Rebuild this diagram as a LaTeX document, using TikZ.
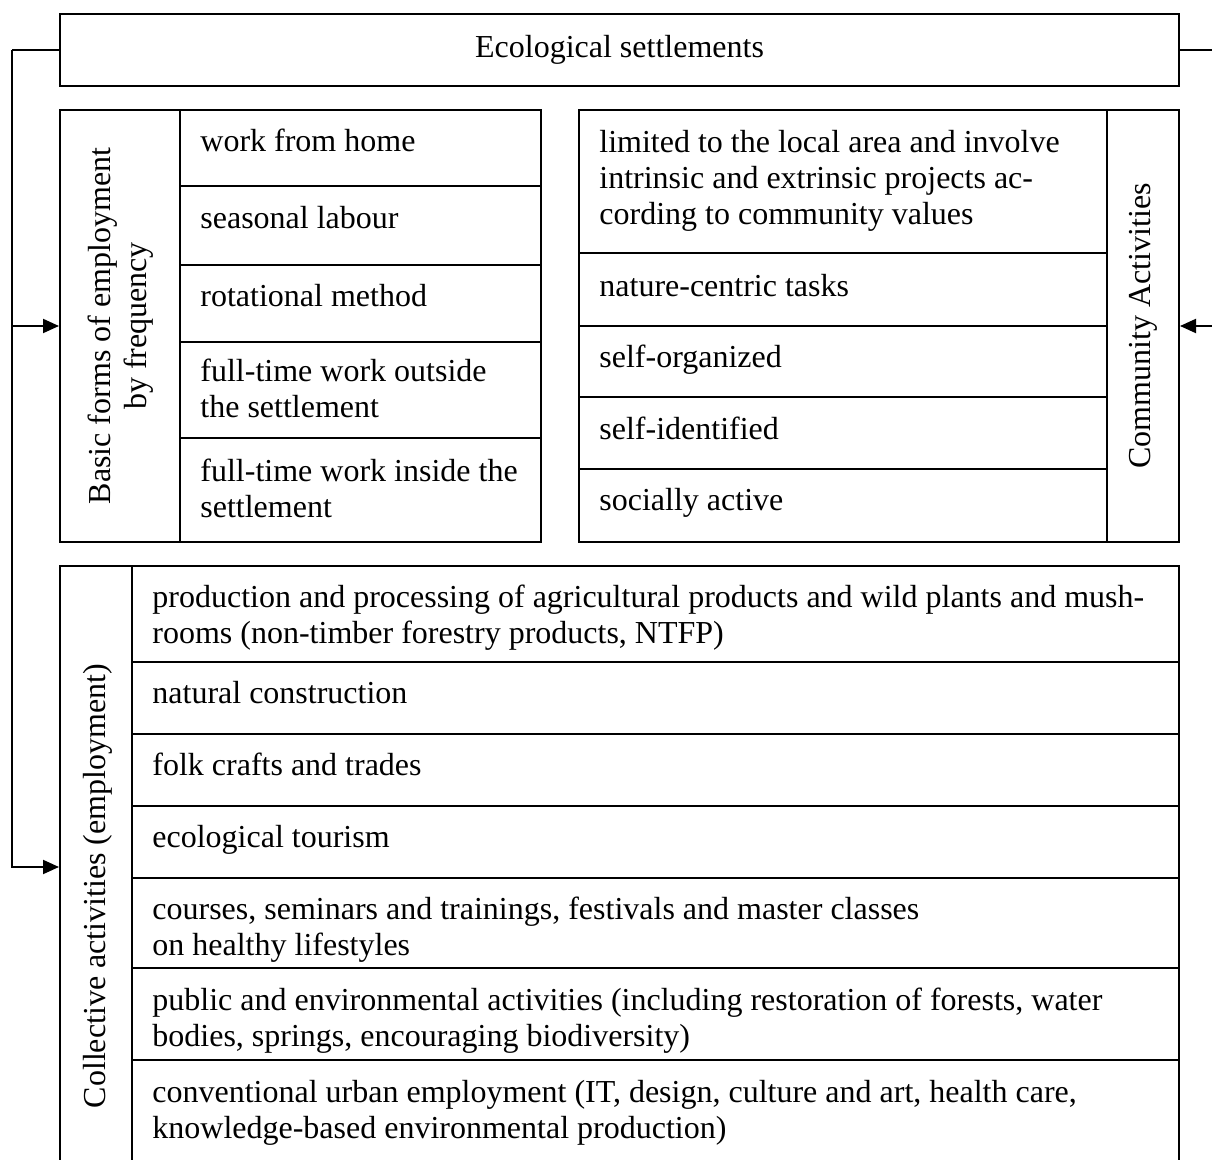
\documentclass[tikz,border=0pt]{standalone}
\usepackage{fontspec}
\setmainfont{Liberation Serif}
\usetikzlibrary{arrows.meta}
\begin{document}
\begin{tikzpicture}[x=0.5pt,y=-0.5pt,
  frame/.style={draw, line width=1pt, inner sep=0pt},
  txt/.style={font=\fontsize{16}{18}\selectfont, inner sep=0pt, align=left, anchor=west, yshift=-1.5pt},
  vtxt/.style={font=\fontsize{16}{18}\selectfont, inner sep=0pt, align=center, rotate=90},
  rule/.style={line width=1pt},
  conn/.style={line width=1pt, -{Triangle[length=8pt,width=7pt]}}]
\clip (0,0) rectangle (1212,1160);
% boxes
\node[frame, minimum width=559.5pt, minimum height=36pt] (top) at (619.5,50) {};
\node[frame, minimum width=240.5pt, minimum height=216pt] (basic) at (300.5,326) {};
\node[frame, minimum width=300pt, minimum height=216pt] (comm) at (879,326) {};
\node[frame, minimum width=559.5pt, minimum height=317pt] (coll) at (619.5,883) {};
% inner rules: basic forms
\draw[rule] (180,110) -- (180,542);
\foreach \y in {186,265,342,438} \draw[rule] (180,\y) -- (541,\y);
% inner rules: community
\draw[rule] (1107,110) -- (1107,542);
\foreach \y in {253,326,397,469} \draw[rule] (579,\y) -- (1107,\y);
% inner rules: collective
\draw[rule] (132,566) -- (132,1200);
\foreach \y in {662,734,806,878,968,1060} \draw[rule] (132,\y) -- (1179,\y);
% texts
\node[font=\fontsize{16}{18}\selectfont, inner sep=0pt] (ttop) at (619.5,50) {\strut Ecological settlements};
\node[vtxt] (tbasic) at (121,326) {\strut Basic forms of employment\\\strut by frequency};
\node[txt] (b1) at (200,141) {\strut work from home};
\node[txt] (b2) at (200,218) {\strut seasonal labour};
\node[txt] (b3) at (200,296) {\strut rotational method};
\node[txt] (b4) at (200,389) {\strut full-time work outside\\\strut the settlement};
\node[txt] (b5) at (200,489) {\strut full-time work inside the\\\strut settlement};
\node[vtxt] (tcomm) at (1143,326) {\strut Community Activities};
\node[txt] (c1) at (599,178) {\strut limited to the local area and involve\\\strut intrinsic and extrinsic projects ac-\\\strut cording to community values};
\node[txt] (c2) at (599,286) {\strut nature-centric tasks};
\node[txt] (c3) at (599,357) {\strut self-organized};
\node[txt] (c4) at (599,429) {\strut self-identified};
\node[txt] (c5) at (599,500) {\strut socially active};
\node[vtxt] (tcoll) at (98,886) {\strut Collective activities (employment)};
\node[txt] (k1) at (152,615) {\strut production and processing of agricultural products and wild plants and mush-\\\strut rooms (non-timber forestry products, NTFP)};
\node[txt] (k2) at (152,693) {\strut natural construction};
\node[txt] (k3) at (152,765) {\strut folk crafts and trades};
\node[txt] (k4) at (152,837) {\strut ecological tourism};
\node[txt] (k5) at (152,927) {\strut courses, seminars and trainings, festivals and master classes\\\strut on healthy lifestyles};
\node[txt] (k6) at (152,1018) {\strut public and environmental activities (including restoration of forests, water\\\strut bodies, springs, encouraging biodiversity)};
\node[txt] (k7) at (152,1110) {\strut conventional urban employment (IT, design, culture and art, health care,\\\strut knowledge-based environmental production)};
% connectors
\coordinate (lt) at (12,50);
\coordinate (rt) at (1240,50);
\draw[rule] (top.west) -- (lt);
\draw[conn] (lt) |- (basic.west);
\draw[conn] (lt) |- ([yshift=8pt]coll.west);
\draw[rule] (top.east) -- (rt);
\draw[conn] (rt) |- (comm.east);
\end{tikzpicture}
\end{document}
